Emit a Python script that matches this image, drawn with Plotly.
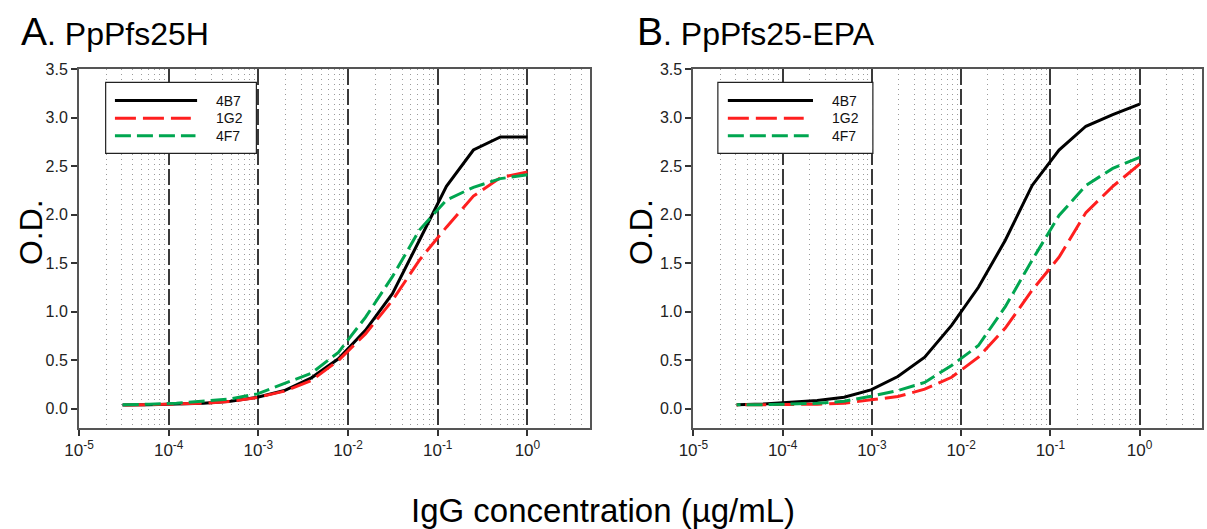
import plotly.graph_objects as go

# ---------------- data ----------------
conc = [1.0, 0.5, 0.25, 0.125, 0.0625, 0.03125, 0.015625, 0.0078125,
        0.00390625, 0.001953125, 0.0009765625, 0.00048828125,
        0.000244140625, 0.0001220703125, 6.103515625e-05, 3.0517578125e-05]

a_4b7 = [2.80, 2.80, 2.665, 2.29, 1.735, 1.185, 0.806, 0.513, 0.317, 0.186,
         0.117, 0.076, 0.055, 0.045, 0.040, 0.037]
a_1g2 = [2.44, 2.38, 2.19, 1.87, 1.53, 1.115, 0.77, 0.496, 0.29, 0.18,
         0.115, 0.075, 0.055, 0.045, 0.040, 0.037]
a_4f7 = [2.41, 2.37, 2.28, 2.15, 1.84, 1.36, 0.94, 0.58, 0.365, 0.255,
         0.152, 0.100, 0.075, 0.055, 0.045, 0.040]

b_4b7 = [3.137, 3.03, 2.91, 2.665, 2.30, 1.735, 1.25, 0.857, 0.53, 0.33,
         0.193, 0.117, 0.083, 0.065, 0.048, 0.040]
b_1g2 = [2.52, 2.29, 2.02, 1.56, 1.22, 0.83, 0.53, 0.323, 0.20, 0.124,
         0.090, 0.055, 0.045, 0.040, 0.040, 0.038]
b_4f7 = [2.59, 2.476, 2.30, 1.99, 1.53, 1.05, 0.65, 0.444, 0.27, 0.186,
         0.127, 0.076, 0.055, 0.045, 0.040, 0.040]

series_names = ["4B7", "1G2", "4F7"]
panel_titles = ["A", "B"]
panel_subtitles = ["PpPfs25H", "PpPfs25-EPA"]
decades = [1e-5, 1e-4, 1e-3, 1e-2, 1e-1, 1e0]
decade_labels = ["10<sup>-5</sup>", "10<sup>-4</sup>", "10<sup>-3</sup>",
                 "10<sup>-2</sup>", "10<sup>-1</sup>", "10<sup>0</sup>"]
y_ticks = [0.0, 0.5, 1.0, 1.5, 2.0, 2.5, 3.0, 3.5]

# ---------------- styles ----------------
W, H = 1207, 529
ML, MR, MT, MB = 79, 3, 69, 101
PW = W - ML - MR
PH = H - MT - MB
FONT = "Arial, Liberation Sans, sans-serif"
colors = ["#000000", "#FF1F1F", "#00A650"]
dashes = ["solid", "21px,7px", "16px,6px"]


def px_x(px):
    return (px - ML) / PW


def px_y(py):
    return (H - MB - py) / PH


fig = go.Figure()

panels = [("x", "y", [a_4b7, a_1g2, a_4f7]), ("x2", "y2", [b_4b7, b_1g2, b_4f7])]
for xa, ya, vals in panels:
    for name, v, c, d in zip(series_names, vals, colors, dashes):
        fig.add_trace(go.Scatter(
            x=conc, y=v, mode="lines", name=name, xaxis=xa, yaxis=ya,
            line=dict(color=c, width=3, dash=d), showlegend=False))

minor_vals = [m * dcd for dcd in decades for m in range(2, 10) if m * dcd <= 5]

xcommon = dict(
    type="log", range=[-5, 0.69897], tickmode="array", tickvals=decades,
    ticktext=decade_labels, ticks="outside", ticklen=6, tickwidth=1.5,
    tickcolor="#333", showgrid=True, gridcolor="#3a3a3a", gridwidth=1.5,
    griddash="16px,4px", showline=True, linecolor="#555", linewidth=2,
    mirror=True, zeroline=False,
    tickfont=dict(family=FONT, size=17, color="#222"),
    minor=dict(tickmode="array", tickvals=minor_vals, showgrid=True,
               gridcolor="#9a9a9a", gridwidth=1, griddash="1px,4px", ticks=""),
)
ycommon = dict(
    range=[-0.2, 3.5], tickmode="array", tickvals=y_ticks, tickformat=".1f",
    ticks="outside", ticklen=6, tickwidth=1.5, tickcolor="#333",
    showgrid=False, zeroline=False, showline=True, linecolor="#555",
    linewidth=2, mirror=True,
    tickfont=dict(family=FONT, size=16, color="#222"),
)

a_dom = [0.0, px_x(591)]
b_dom = [px_x(694.5), 1.0]
fig.update_layout(
    xaxis=dict(domain=a_dom, anchor="y", **xcommon),
    yaxis=dict(domain=[0, 1], anchor="x", **ycommon),
    xaxis2=dict(domain=b_dom, anchor="y2", **xcommon),
    yaxis2=dict(domain=[0, 1], anchor="x2", **ycommon),
)

shapes = []
annotations = []

# manual legends (one per panel)
legend_geo = [
    dict(box=(105.7, 256.7, 82.3, 153.3), x0=115, ends=(197.3, 191, 195.7), tx=214),
    dict(box=(719, 874.3, 82.3, 153.3), x0=729, ends=(814.3, 805, 810), tx=831),
]
row_y = [100.5, 118.2, 135.7]
for g in legend_geo:
    bx0, bx1, by0, by1 = g["box"]
    shapes.append(dict(type="rect", xref="paper", yref="paper",
                       x0=px_x(bx0), x1=px_x(bx1), y0=px_y(by1), y1=px_y(by0),
                       line=dict(color="#222", width=1.2), fillcolor="white",
                       layer="above"))
    for name, c, d, xe, ry in zip(series_names, colors, dashes, g["ends"], row_y):
        shapes.append(dict(type="line", xref="paper", yref="paper",
                           x0=px_x(g["x0"]), x1=px_x(xe), y0=px_y(ry), y1=px_y(ry),
                           line=dict(color=c, width=3, dash=d), layer="above"))
        annotations.append(dict(text=name, xref="paper", yref="paper",
                                x=px_x(g["tx"]), y=px_y(ry), xanchor="left",
                                yanchor="middle", showarrow=False,
                                font=dict(family=FONT, size=14, color="#111")))

# panel titles
for lbl, sub, tx in zip(panel_titles, panel_subtitles, [19, 636]):
    annotations.append(dict(
        text=f"<span style='font-size:39px'>{lbl}</span>. {sub}",
        xref="paper", yref="paper", x=px_x(tx), y=px_y(31), xanchor="left",
        yanchor="middle", showarrow=False,
        font=dict(family=FONT, size=32, color="#000")))

# y titles
for tx in [31, 642]:
    annotations.append(dict(
        text="O.D.", xref="paper", yref="paper", x=px_x(tx), y=px_y(232),
        xanchor="center", yanchor="middle", textangle=-90, showarrow=False,
        font=dict(family=FONT, size=32, color="#000")))

# x title
annotations.append(dict(
    text="IgG concentration (µg/mL)", xref="paper", yref="paper",
    x=px_x(604), y=px_y(510), xanchor="center", yanchor="middle",
    showarrow=False, font=dict(family=FONT, size=33, color="#000")))

fig.update_layout(
    width=W, height=H, margin=dict(l=ML, r=MR, t=MT, b=MB),
    paper_bgcolor="white", plot_bgcolor="white",
    shapes=shapes, annotations=annotations, showlegend=False,
)

fig.write_html("out.html", config={"displayModeBar": False},
               post_script="document.body.style.margin='0';"
                           "document.body.style.overflow='hidden';")
